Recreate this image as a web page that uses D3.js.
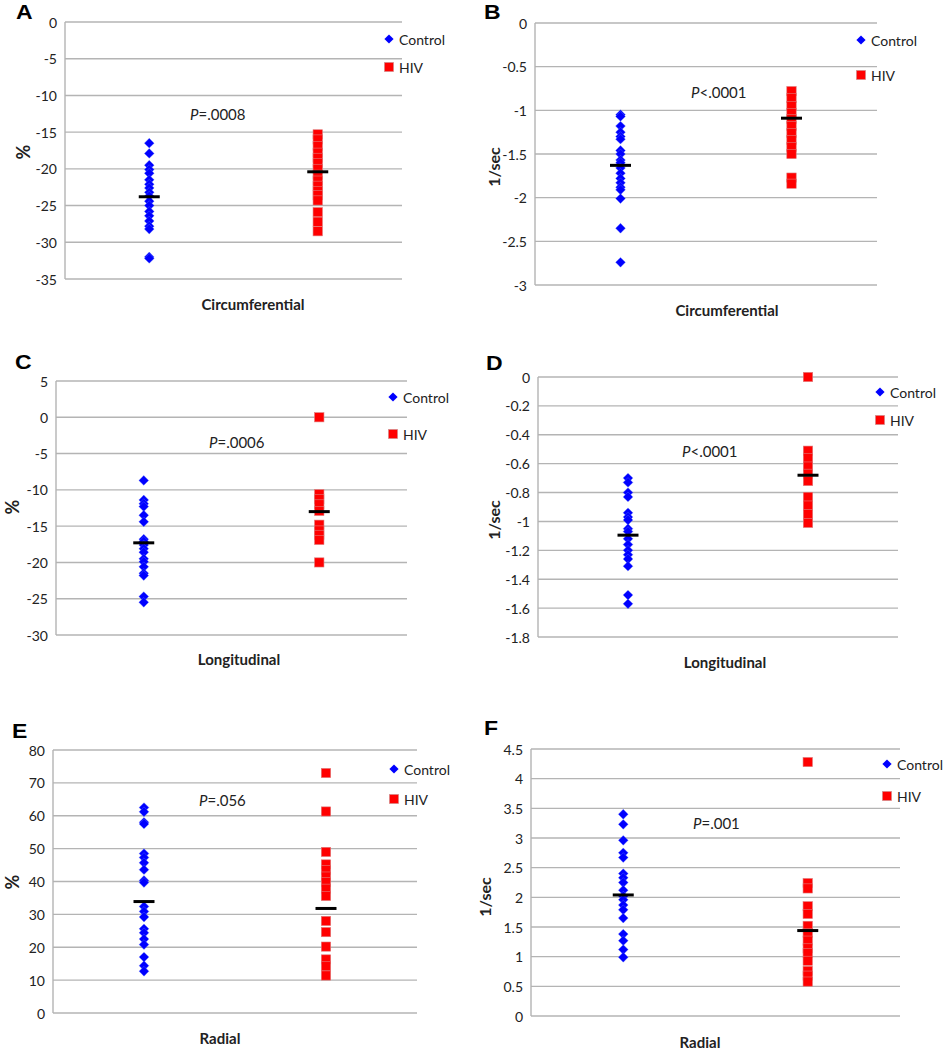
<!DOCTYPE html>
<html>
<head>
<meta charset="utf-8">
<script src="https://cdn.jsdelivr.net/npm/d3@7"></script>
<style>
  html, body { margin: 0; padding: 0; background: #fff; }
  svg { display: block; }
  text { font-family: Lato, "Open Sans", "Liberation Sans", sans-serif; fill: #222; }
</style>
</head>
<body>
<svg id="chart" width="943" height="1050"></svg>
<script>
// ---- data ----
const groups = ["Control", "HIV"];
const panelLetters = ["A", "B", "C", "D", "E", "F"];
const xTitles = ["Circumferential", "Circumferential", "Longitudinal", "Longitudinal", "Radial", "Radial"];
const yTitles = ["%", "1/sec", "%", "1/sec", "%", "1/sec"];
const pLabels = ["=.0008", "<.0001", "=.0006", "<.0001", "=.056", "=.001"];

const controlA = [-16.5, -17.9, -19.5, -20.1, -20.6, -21.5, -22.1, -22.6, -23.2, -23.7, -24.4, -25.0, -25.8, -26.4, -27.1, -27.8, -28.2, -32.0, -32.2];
const hivA = [-15.3, -16.0, -16.9, -17.8, -18.5, -19.2, -20.0, -20.8, -21.6, -22.3, -23.0, -23.6, -24.3, -25.9, -27.2, -28.5];
const controlB = [-1.05, -1.07, -1.18, -1.25, -1.30, -1.33, -1.46, -1.50, -1.57, -1.60, -1.66, -1.72, -1.78, -1.83, -1.88, -1.91, -2.01, -2.35, -2.74];
const hivB = [-0.78, -0.86, -0.95, -1.03, -1.10, -1.18, -1.26, -1.34, -1.42, -1.50, -1.77, -1.84];
const controlC = [-8.7, -11.4, -11.9, -12.3, -13.5, -14.4, -16.8, -17.1, -17.6, -18.1, -18.6, -19.5, -19.9, -20.6, -21.5, -21.8, -24.7, -25.5];
const hivC = [0.0, -10.6, -11.3, -12.0, -12.9, -14.8, -15.6, -16.2, -16.9, -20.0];
const controlD = [-0.70, -0.73, -0.80, -0.83, -0.94, -0.97, -0.99, -1.05, -1.07, -1.12, -1.16, -1.20, -1.23, -1.26, -1.31, -1.51, -1.57];
const hivD = [0.0, -0.51, -0.56, -0.62, -0.67, -0.72, -0.83, -0.89, -0.95, -1.01];
const controlE = [62.5, 61.2, 58.0, 57.5, 48.5, 47.3, 45.7, 43.6, 40.3, 39.7, 32.4, 30.9, 29.2, 25.6, 24.4, 22.5, 20.8, 17.0, 14.4, 12.7];
const hivE = [73.0, 61.3, 49.0, 45.2, 43.5, 41.5, 39.8, 37.8, 35.6, 28.0, 24.6, 20.2, 16.3, 14.2, 11.4];
const controlF = [3.40, 3.23, 2.96, 2.75, 2.67, 2.40, 2.33, 2.25, 2.12, 2.02, 1.96, 1.87, 1.79, 1.65, 1.38, 1.27, 1.12, 0.99];
const hivF = [4.28, 2.24, 2.15, 1.85, 1.72, 1.52, 1.40, 1.27, 1.14, 1.06, 0.93, 0.76, 0.68, 0.58];

const controlMeans = [-23.8, -1.63, -17.3, -1.095, 33.9, 2.04];
const hivMeans = [-20.4, -1.09, -13.0, -0.68, 31.8, 1.44];

const yDomains = [[-35, 0], [-3, 0], [-30, 5], [-1.8, 0], [0, 80], [0, 4.5]];
const yTickSteps = [5, 0.5, 5, 0.2, 10, 0.5];

const controlSeries = [controlA, controlB, controlC, controlD, controlE, controlF];
const hivSeries = [hivA, hivB, hivC, hivD, hivE, hivF];

// ---- layout (pixels) ----
const layout = [
  { l: 65,  r: 402, t: 22,  b: 279,  leg: [13, 17, 45], p: [190, 120], xt: [253, 310], yt: [23, 152],  let: [16, 19] },
  { l: 535, r: 877, t: 23,  b: 285,  leg: [16, 17, 52], p: [691, 98],  xt: [727, 316], yt: [493, 167], let: [484, 19] },
  { l: 56,  r: 407, t: 381, b: 635,  leg: [14, 16, 53], p: [209, 448], xt: [239, 665], yt: [12, 507],  let: [15, 369] },
  { l: 538, r: 898, t: 377, b: 637,  leg: [18, 15, 43], p: [682, 457], xt: [725, 668], yt: [493, 520], let: [486, 370] },
  { l: 53,  r: 417, t: 750, b: 1013, leg: [23, 19, 49], p: [199, 806], xt: [220, 1044], yt: [12, 882], let: [12, 738] },
  { l: 531, r: 900, t: 749, b: 1016, leg: [13, 15, 47], p: [693, 829], xt: [700, 1048], yt: [484, 897], let: [484, 735] }
];

const svg = d3.select("#chart");
const gridColor = "#b4b4b4";
const blue = "#0000ff";
const red = "#ff0000";

function diamondPath(cx, cy, h) {
  return `M${cx},${cy - h}L${cx + h},${cy}L${cx},${cy + h}L${cx - h},${cy}Z`;
}

layout.forEach((L, i) => {
  const g = svg.append("g");
  const y = d3.scaleLinear().domain(yDomains[i]).range([L.b, L.t]);
  const x = d3.scalePoint().domain(groups).range([L.l, L.r]).padding(0.5);
  const [d0, d1] = yDomains[i];
  const step = yTickSteps[i];
  const n = Math.round((d1 - d0) / step);
  const ticks = d3.range(n + 1).map(k => +(d0 + k * step).toFixed(4));

  // gridlines
  g.selectAll("line.grid").data(ticks).enter().append("line")
    .attr("x1", L.l).attr("x2", L.r)
    .attr("y1", d => y(d)).attr("y2", d => y(d))
    .attr("stroke", gridColor).attr("stroke-width", 1.4);

  // left axis line
  g.append("line").attr("x1", L.l).attr("x2", L.l).attr("y1", L.t).attr("y2", L.b)
    .attr("stroke", gridColor).attr("stroke-width", 1.4);

  // tick labels
  const fmt = v => (Math.abs(v) < 1e-9 ? "0" : String(+v.toFixed(1)));
  g.selectAll("text.tick").data(ticks).enter().append("text")
    .attr("x", L.l - 8).attr("y", d => y(d))
    .attr("text-anchor", "end").attr("dominant-baseline", "central")
    .attr("font-size", 14)
    .text(d => fmt(d));

  // control diamonds
  g.selectAll("path.ctrl").data(controlSeries[i]).enter().append("path")
    .attr("d", d => diamondPath(x("Control"), y(d), 4.9))
    .attr("fill", blue).attr("stroke", "#5f78ff").attr("stroke-width", 0.5).attr("stroke-opacity", 0.7);

  // HIV squares
  g.selectAll("rect.hiv").data(hivSeries[i]).enter().append("rect")
    .attr("x", x("HIV") - 4.7).attr("y", d => y(d) - 4.6)
    .attr("width", 9.4).attr("height", 9.2)
    .attr("fill", red).attr("stroke", "#e07a7a").attr("stroke-width", 0.6);

  // mean bars
  const means = [controlMeans[i], hivMeans[i]];
  g.selectAll("line.mean").data(groups).enter().append("line")
    .attr("x1", d => x(d) - 10.5).attr("x2", d => x(d) + 10.5)
    .attr("y1", (d, k) => y(means[k])).attr("y2", (d, k) => y(means[k]))
    .attr("stroke", "#000").attr("stroke-width", 3);

  // legend
  const lx = L.r - L.leg[0];
  const ly1 = L.t + L.leg[1], ly2 = L.t + L.leg[2];
  g.append("path").attr("d", diamondPath(lx, ly1, 4.6)).attr("fill", blue);
  g.append("rect").attr("x", lx - 4.6).attr("y", ly2 - 4.6).attr("width", 9.2).attr("height", 9.2)
    .attr("fill", red).attr("stroke", "#c99").attr("stroke-width", 0.6);
  g.append("text").attr("x", lx + 10).attr("y", ly1).attr("dominant-baseline", "central")
    .attr("font-size", 14).text("Control");
  g.append("text").attr("x", lx + 10).attr("y", ly2).attr("dominant-baseline", "central")
    .attr("font-size", 14).text("HIV");

  // P value
  const pt = g.append("text").attr("x", L.p[0]).attr("y", L.p[1]).attr("font-size", 15);
  pt.append("tspan").attr("font-style", "italic").text("P");
  pt.append("tspan").text(pLabels[i]);

  // x title
  g.append("text").attr("x", L.xt[0]).attr("y", L.xt[1]).attr("text-anchor", "middle")
    .attr("font-size", 15).attr("font-weight", "bold").text(xTitles[i]);

  // y title
  g.append("text").attr("transform", `translate(${L.yt[0]},${L.yt[1]}) rotate(-90)`)
    .attr("text-anchor", "middle").attr("dominant-baseline", "central")
    .attr("font-size", yTitles[i] === "%" ? 18 : 16).attr("font-weight", "bold").text(yTitles[i]);

  // panel letter
  g.append("text").attr("x", L.let[0]).attr("y", L.let[1])
    .style("font-family", "'Liberation Sans', Arial, sans-serif")
    .attr("font-size", 20).attr("font-weight", "bold").style("fill", "#000")
    .attr("transform", `translate(${L.let[0]},0) scale(1.15,1) translate(${-L.let[0]},0)`)
    .text(panelLetters[i]);
});
</script>
</body>
</html>
